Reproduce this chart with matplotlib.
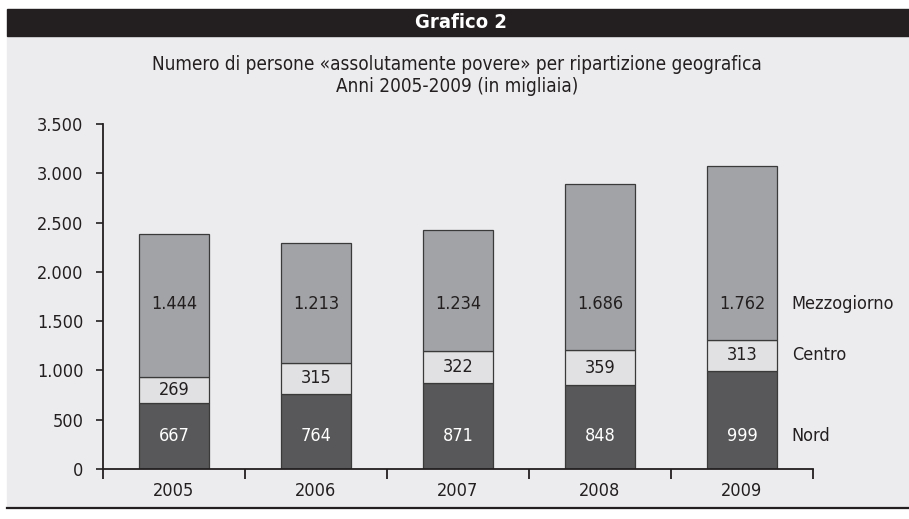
import matplotlib.pyplot as plt
from matplotlib.patches import Rectangle
from matplotlib.lines import Line2D
import numpy as np

plt.rcParams['font.family'] = ['DejaVu Sans']
plt.rcParams['font.stretch'] = 'condensed'

years = ['2005', '2006', '2007', '2008', '2009']
nord = [667, 764, 871, 848, 999]
centro = [269, 315, 322, 359, 313]
mezzogiorno = [1444, 1213, 1234, 1686, 1762]
series_names = ['Nord', 'Centro', 'Mezzogiorno']
yticks = [0, 500, 1000, 1500, 2000, 2500, 3000, 3500]

col_nord = '#58585a'
col_centro = '#e1e1e3'
col_mezzo = '#a2a3a6'
bg = '#ececee'
ink = '#231f20'


def fmt(v):
    return f"{v:,}".replace(",", ".")


fig = plt.figure(figsize=(9.09, 5.19), dpi=100)
W, H = 909, 519

# background panel, header and bottom rule
fig.patches.append(Rectangle((7 / W, 1 - 508 / H), 1 - 7 / W, (508 - 36) / H,
                             transform=fig.transFigure, color=bg, zorder=0))
fig.patches.append(Rectangle((7 / W, 1 - 36 / H), 1 - 7 / W, 27 / H,
                             transform=fig.transFigure, color=ink, zorder=1))
fig.lines.append(Line2D([7 / W, 1], [1 - 508 / H, 1 - 508 / H], transform=fig.transFigure,
                        color=ink, lw=1.6))
fig.text(461 / W, 1 - 23 / H, 'Grafico 2', color='white', fontsize=14.5,
         fontweight='bold', ha='center', va='center')
fig.text(457 / W, 1 - 64 / H, 'Numero di persone «assolutamente povere» per ripartizione geografica',
         color=ink, fontsize=13.6, ha='center', va='center')
fig.text(457 / W, 1 - 87 / H, 'Anni 2005-2009 (in migliaia)',
         color=ink, fontsize=13.6, ha='center', va='center')

ax = fig.add_axes([103 / W, 1 - 469 / H, (813 - 103) / W, (469 - 124) / H])
ax.set_facecolor('none')
ax.set_zorder(5)

x = np.arange(len(years))
nord_a = np.array(nord)
centro_a = np.array(centro)
mezzo_a = np.array(mezzogiorno)
bw = 0.49
ec = '#3a3a3a'
ax.bar(x, nord_a, bw, color=col_nord, edgecolor=ec, linewidth=0.9)
ax.bar(x, centro_a, bw, bottom=nord_a, color=col_centro, edgecolor=ec, linewidth=0.9)
ax.bar(x, mezzo_a, bw, bottom=nord_a + centro_a, color=col_mezzo, edgecolor=ec, linewidth=0.9)

# Nord and Mezzogiorno values sit on fixed rows, Centro values are centred
nord_row = 335
mezzo_row = 1674
for i in range(len(years)):
    ax.text(x[i], nord_row, fmt(nord[i]), ha='center', va='center',
            color='white', fontsize=13)
    ax.text(x[i], nord_a[i] + centro_a[i] / 2, fmt(centro[i]), ha='center', va='center',
            color=ink, fontsize=13)
    ax.text(x[i], mezzo_row, fmt(mezzogiorno[i]),
            ha='center', va='center', color=ink, fontsize=13)

# series labels to the right of the last bar
last = len(years) - 1
label_y = [nord_row, nord_a[last] + centro_a[last] / 2, mezzo_row]
for name, yv in zip(series_names, label_y):
    ax.text(last + 0.35, yv, name, ha='left', va='center', color=ink, fontsize=13,
            clip_on=False)

ax.set_xlim(-0.5, len(years) - 0.5)
ax.set_ylim(0, 3500)
ax.set_yticks(yticks)
ax.set_yticklabels([fmt(v) for v in yticks])
ax.set_xticks(x)
ax.set_xticklabels(years)
ax.set_xticks(np.arange(-0.5, len(years)), minor=True)
ax.tick_params(axis='x', which='major', length=0, pad=9, labelsize=13, colors=ink)
ax.tick_params(axis='x', which='minor', length=7, width=1.3, direction='out', color=ink)
ax.tick_params(axis='y', length=5, width=1.2, pad=9, labelsize=13, colors=ink)

for s in ['top', 'right']:
    ax.spines[s].set_visible(False)
for s in ['left', 'bottom']:
    ax.spines[s].set_color(ink)
    ax.spines[s].set_linewidth(1.3)

fig.savefig('out.png', dpi=100)
